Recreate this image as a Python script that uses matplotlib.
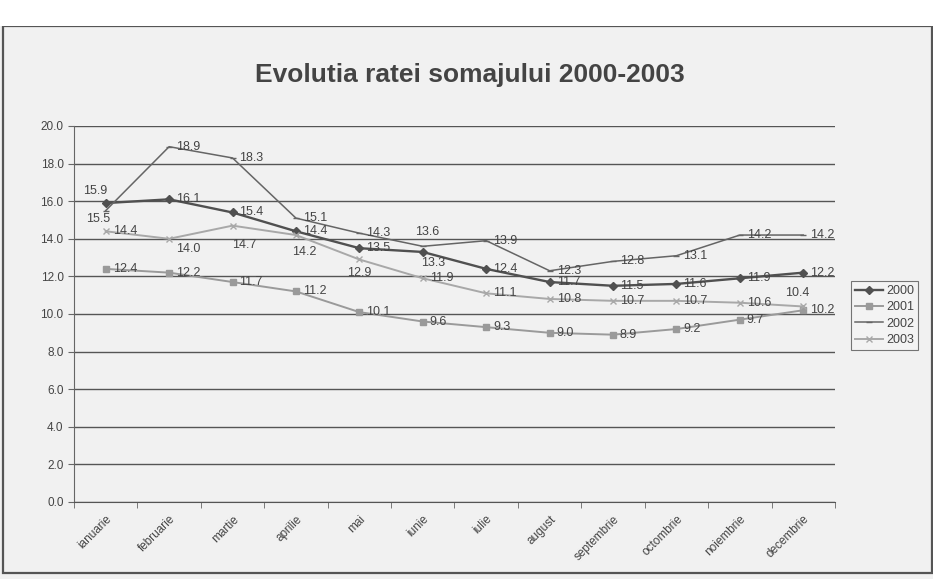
import matplotlib
matplotlib.use("Agg")
import matplotlib.pyplot as plt
from matplotlib.patches import Rectangle

months = ["ianuarie", "februarie", "martie", "aprilie", "mai", "iunie",
          "iulie", "august", "septembrie", "octombrie", "noiembrie", "decembrie"]
y2000 = [15.9, 16.1, 15.4, 14.4, 13.5, 13.3, 12.4, 11.7, 11.5, 11.6, 11.9, 12.2]
y2001 = [12.4, 12.2, 11.7, 11.2, 10.1, 9.6, 9.3, 9.0, 8.9, 9.2, 9.7, 10.2]
y2002 = [15.5, 18.9, 18.3, 15.1, 14.3, 13.6, 13.9, 12.3, 12.8, 13.1, 14.2, 14.2]
y2003 = [14.4, 14.0, 14.7, 14.2, 12.9, 11.9, 11.1, 10.8, 10.7, 10.7, 10.6, 10.4]
series_names = ["2000", "2001", "2002", "2003"]
yticks = [0, 2, 4, 6, 8, 10, 12, 14, 16, 18, 20]
title = "Evolutia ratei somajului 2000-2003"

plt.rcParams['font.family'] = ['Liberation Sans', 'DejaVu Sans']

fig = plt.figure(figsize=(9.33, 5.79), dpi=100, facecolor="#f1f1f1")
fig.patches.append(Rectangle((3/933, 1-573/579), 929/933, (573-26)/579,
                             transform=fig.transFigure, fill=False,
                             edgecolor="#555555", linewidth=1.6))
fig.patches.append(Rectangle((0, 1-26/579), 1, 26/579, transform=fig.transFigure,
                             facecolor="white", edgecolor="none"))

ax = fig.add_axes([74/933, 1-502/579, (835-74)/933, (502-126)/579])
ax.set_facecolor("none")

styles = [
    dict(color="#505050", marker="D", markersize=4.5, linewidth=1.7),
    dict(color="#9a9a9a", marker="s", markersize=5, linewidth=1.4),
    dict(color="#656565", marker="_", markersize=5, linewidth=1.1),
    dict(color="#a8a8a8", marker="x", markersize=5, linewidth=1.4),
]
data = [y2000, y2001, y2002, y2003]
x = list(range(len(months)))
for name, ys, st in zip(series_names, data, styles):
    ax.plot(x, ys, label=name, zorder=3, **st)

# label offsets (points) for individual data labels
default_off = (5, 0)
special = {
    (0, 0): (1, 9, "right"),
    (2, 0): (3, -6, "right"),
    (3, 1): (5, -7, "left"),
    (3, 2): (0, -14, "left"),
    (3, 3): (-3, -12, "left"),
    (3, 4): (0, -10, "center"),
    (2, 5): (3, 10, "center"),
    (0, 5): (-1, -8, "left"),
    (3, 11): (-4, 10, "center"),
}
for si, ys in enumerate(data):
    for i, v in enumerate(ys):
        if (si, i) in special:
            dx, dy, ha = special[(si, i)]
        else:
            dx, dy = default_off
            ha = "left"
        ax.annotate(f"{v:.1f}", (i, v), xytext=(dx, dy), textcoords="offset points",
                    ha=ha, va="center", fontsize=9, color="#444444", zorder=4)

ax.set_xlim(-0.5, len(months) - 0.5)
ax.set_ylim(0, 20)
ax.set_yticks(yticks)
ax.set_yticklabels([f"{t:.1f}" for t in yticks], fontsize=8.5, color="#444444")
ax.yaxis.grid(True, color="#555555", linewidth=1.0)
ax.set_axisbelow(True)
ax.set_xticks(x)
ax.set_xticklabels(months, rotation=45, ha="right", rotation_mode="anchor",
                   fontsize=8.5, color="#444444")
ax.tick_params(axis="x", length=0, pad=8)
ax.set_xticks([i - 0.5 for i in range(len(months) + 1)], minor=True)
ax.tick_params(axis="x", which="minor", length=4, color="#666666")
ax.tick_params(axis="y", length=4, color="#666666")
for s in ["top", "right"]:
    ax.spines[s].set_visible(False)
ax.spines["left"].set_color("#666666")
ax.spines["bottom"].set_color("#555555")

fig.text(470/933, 1-75/579, title, ha="center", va="center", fontsize=19,
         fontweight="bold", color="#444444")

leg = ax.legend(loc="upper left", bbox_to_anchor=(845/933, 1-275/579),
                bbox_transform=fig.transFigure, fontsize=9, frameon=True,
                fancybox=False, edgecolor="#555555", facecolor="#f4f4f4",
                handlelength=2.2, borderpad=0.3, labelspacing=0.35,
                handletextpad=0.3)
leg.get_frame().set_linewidth(0.8)
for t in leg.get_texts():
    t.set_color("#444444")

fig.savefig("out.png", dpi=100, facecolor=fig.get_facecolor())
